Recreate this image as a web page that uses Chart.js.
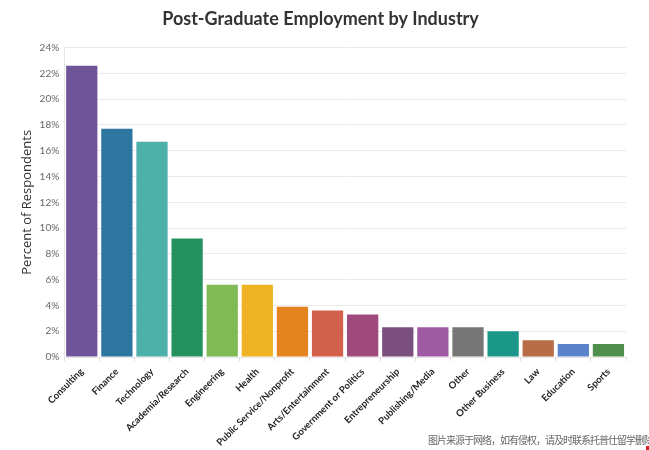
<!DOCTYPE html>
<html>
<head>
<meta charset="utf-8">
<script src="https://cdn.jsdelivr.net/npm/chart.js@4/dist/chart.umd.min.js"></script>
<style>
  body { margin: 0; background: #fff; }
  #wrap { position: relative; width: 649px; height: 450px; overflow: hidden; }
  #note {
    position: absolute; left: 428px; top: 432px; white-space: nowrap; letter-spacing: -1px;
    font: 10px "Noto Sans CJK SC", sans-serif; color: #666;
  }
  #mark { position: absolute; left: 646px; top: 446px; width: 3px; height: 4px; background: #d22; }
</style>
</head>
<body>
<div id="wrap">
  <canvas id="chart" width="649" height="450"></canvas>
  <div id="note">图片来源于网络，如有侵权，请及时联系托普仕留学删除</div>
  <div id="mark"></div>
</div>
<script>
  const industries = ["Consulting", "Finance", "Technology", "Academia/Research", "Engineering", "Health",
    "Public Service/Nonprofit", "Arts/Entertainment", "Government or Politics", "Entrepreneurship",
    "Publishing/Media", "Other", "Other Business", "Law", "Education", "Sports"];
  const percents = [22.6, 17.7, 16.7, 9.2, 5.6, 5.6, 3.9, 3.6, 3.3, 2.3, 2.3, 2.3, 2.0, 1.3, 1.0, 1.0];
  const barColors = ["#6f5499", "#2e75a0", "#4db0ab", "#24925f", "#7fba55", "#eeb223", "#e5831f", "#d3604b",
    "#a0497d", "#7a4f7e", "#a05aa3", "#767676", "#1b978a", "#b86d47", "#5b83cc", "#4f8f4d"];
  const yTicks = [0, 2, 4, 6, 8, 10, 12, 14, 16, 18, 20, 22, 24];

  new Chart(document.getElementById('chart'), {
    type: 'bar',
    data: {
      labels: industries,
      datasets: [{
        data: percents,
        backgroundColor: barColors,
        categoryPercentage: 1,
        barPercentage: 0.89
      }]
    },
    options: {
      responsive: false,
      animation: false,
      layout: { padding: { left: 15, right: 23, top: 0, bottom: 0 } },
      plugins: {
        legend: { display: false },
        tooltip: { enabled: false },
        title: {
          display: true,
          text: 'Post-Graduate Employment by Industry',
          color: '#333',
          font: { family: 'Lato, sans-serif', size: 18, weight: 'bold' },
          padding: { top: 8, bottom: 18 }
        }
      },
      scales: {
        x: {
          afterFit: scale => { scale.height = 93; },
          grid: { display: true, drawOnChartArea: false, tickLength: 4, color: '#dddddd' },
          border: { color: '#e6e6e6' },
          ticks: {
            minRotation: 45, maxRotation: 45,
            padding: 5,
            color: '#222',
            font: { family: 'Lato, sans-serif', size: 9.5, weight: 'bold' }
          }
        },
        y: {
          min: 0, max: 24,
          afterBuildTicks: axis => { axis.ticks = yTicks.map(v => ({ value: v })); },
          grid: { color: '#ebebeb', drawTicks: false },
          border: { color: '#e6e6e6' },
          ticks: {
            padding: 5,
            color: '#666',
            font: { family: 'Lato, sans-serif', size: 10 },
            callback: v => v + '%'
          },
          title: {
            display: true,
            text: 'Percent of Respondents',
            color: '#333',
            font: { family: '"Open Sans", sans-serif', size: 13 },
            padding: { top: 4, bottom: 0 }
          }
        }
      }
    }
  });
</script>
</body>
</html>
